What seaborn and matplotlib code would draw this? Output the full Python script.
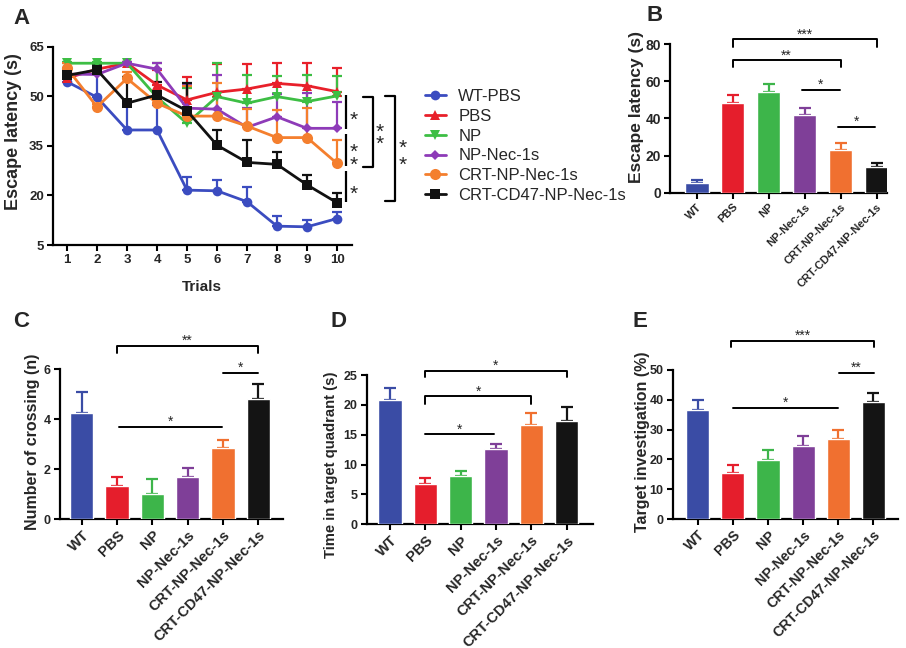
import numpy as np
import pandas as pd
import matplotlib
matplotlib.use('Agg')
import matplotlib.pyplot as plt
import seaborn as sns
from matplotlib.lines import Line2D

sns.set_theme(style='ticks')
plt.rcParams['font.family'] = ['Liberation Sans', 'DejaVu Sans']
plt.rcParams['font.weight'] = 'bold'
plt.rcParams['axes.labelweight'] = 'bold'

# ---------------- data ----------------
trials = [1, 2, 3, 4, 5, 6, 7, 8, 9, 10]
series_names = ['WT-PBS', 'PBS', 'NP', 'NP-Nec-1s', 'CRT-NP-Nec-1s', 'CRT-CD47-NP-Nec-1s']

wt_pbs_mean = [54.4, 49.7, 39.8, 39.8, 21.6, 21.4, 18.1, 10.7, 10.5, 13.0]
wt_pbs_err = [3.0, 7.0, 7.6, 7.6, 3.9, 3.3, 4.4, 3.2, 2.1, 2.0]
pbs_mean = [55.5, 58.2, 60.0, 53.4, 48.9, 51.2, 52.2, 53.9, 53.2, 51.4]
pbs_err = [2.0, 2.0, 0.5, 4.5, 7.0, 8.6, 7.6, 6.3, 7.0, 7.1]
np_mean = [60.0, 60.0, 60.0, 49.7, 41.8, 49.9, 47.9, 49.9, 48.4, 50.1]
np_err = [0.5, 0.5, 0.5, 10.3, 10.6, 10.3, 8.5, 6.2, 8.0, 6.0]
np_nec_mean = [56.7, 56.6, 60.0, 58.2, 46.4, 46.1, 40.6, 43.8, 40.3, 40.3]
np_nec_err = [2.0, 2.0, 0.5, 2.0, 7.0, 10.3, 6.0, 7.0, 10.6, 8.1]
crt_np_mean = [58.5, 46.8, 55.4, 47.9, 44.0, 44.0, 41.0, 37.5, 37.5, 29.7]
crt_np_err = [1.5, 1.0, 2.0, 2.0, 9.0, 9.9, 5.0, 8.3, 8.9, 7.1]
crt_cd47_mean = [56.3, 58.0, 47.9, 50.4, 45.6, 35.2, 30.0, 29.4, 23.2, 17.8]
crt_cd47_err = [1.5, 1.5, 8.0, 4.0, 8.3, 4.6, 6.8, 3.8, 3.0, 3.0]

bar_groups = ['WT', 'PBS', 'NP', 'NP-Nec-1s', 'CRT-NP-Nec-1s', 'CRT-CD47-NP-Nec-1s']
b_mean = [5.4, 48.5, 54.5, 41.9, 23.0, 14.0]
b_err = [1.4, 4.2, 4.1, 3.9, 3.6, 2.2]
c_mean = [4.25, 1.33, 1.0, 1.67, 2.83, 4.8]
c_err = [0.84, 0.36, 0.6, 0.36, 0.33, 0.6]
d_mean = [20.8, 6.75, 8.15, 12.6, 16.6, 17.35]
d_err = [2.0, 1.05, 0.75, 0.85, 2.0, 2.35]
e_mean = [36.6, 15.3, 19.8, 24.6, 26.7, 39.4]
e_err = [3.3, 2.8, 3.4, 3.4, 3.2, 2.8]

# ---------------- style ----------------
line_colors = ['#3B4CC0', '#E8202A', '#3DBE44', '#8E3BB8', '#F47F2E', '#111111']
line_markers = ['o', '^', 'v', 'D', 'o', 's']
marker_sizes = [7, 7, 7, 5, 8, 7.5]
bar_colors = ['#3A4CA5', '#E51E2C', '#3DB54A', '#7F3F98', '#F07030', '#141414']

W, H = 906, 648
fig = plt.figure(figsize=(W / 100, H / 100), dpi=100)


def rect(left, right, top, bottom):
    return [left / W, 1 - bottom / H, (right - left) / W, (bottom - top) / H]


def style_axes(ax):
    sns.despine(ax=ax)
    for s in ['left', 'bottom']:
        ax.spines[s].set_linewidth(1.6)
        ax.spines[s].set_color('black')
    ax.tick_params(direction='out', length=4.5, width=1.5, color='black', pad=2)
    ax.set_facecolor('none')


# ---------------- Panel A ----------------
axA = fig.add_axes(rect(53, 352, 46.7, 245))
means = [wt_pbs_mean, pbs_mean, np_mean, np_nec_mean, crt_np_mean, crt_cd47_mean]
errs = [wt_pbs_err, pbs_err, np_err, np_nec_err, crt_np_err, crt_cd47_err]
order = [0, 3, 4, 5, 2, 1]
for i in order:
    m = np.array(means[i]); e = np.array(errs[i])
    axA.errorbar(trials, m, yerr=[np.zeros_like(e), e], fmt='none', ecolor=line_colors[i],
                 elinewidth=1.6, capsize=3.5, capthick=1.6, zorder=2 + i * 0.1)
    sns.lineplot(x=trials, y=means[i], color=line_colors[i], marker=line_markers[i],
                 markersize=marker_sizes[i], markeredgewidth=0, lw=2, ax=axA,
                 zorder=3 + i * 0.1)
axA.set_xlim(0.533, 10.5)
axA.set_ylim(5, 65)
axA.set_xticks(trials)
axA.set_yticks([5, 20, 35, 50, 65])
style_axes(axA)
axA.tick_params(labelsize=9.5)
axA.set_xlabel('Trials', fontsize=11)
axA.set_ylabel('Escape latency (s)', fontsize=13)
axA.yaxis.set_label_coords(-0.104, 0.572)
axA.xaxis.set_label_coords(0.498, -0.175)


def vbar(ax, x, y1, y2, tick=None, lw=1.6):
    if tick is None:
        ax.plot([x, x], [y1, y2], color='black', lw=lw, clip_on=False, solid_capstyle='butt')
    else:
        ax.plot([tick, x, x, tick], [y1, y1, y2, y2], color='black', lw=lw, clip_on=False)


def star(ax, x, yc, s='*', fs=15, ls=1.0):
    # asterisk glyph sits high in the em box; shift baseline down to center it
    ax.annotate(s, (x, yc), xytext=(0, -fs * 0.62), textcoords='offset points',
                ha='center', va='baseline', fontsize=fs, fontweight='normal',
                linespacing=ls, multialignment='center', annotation_clip=False)


vbar(axA, 10.3, 50.4, 40.0)
vbar(axA, 10.3, 38.6, 28.9)
vbar(axA, 10.3, 27.5, 17.9)
star(axA, 10.55, 45.0)
star(axA, 10.55, 31.5, s='*\n*', ls=0.6)
star(axA, 10.55, 22.6)
vbar(axA, 11.19, 49.9, 28.7, tick=10.87)
star(axA, 11.43, 37.6, s='*\n*', ls=0.55)
vbar(axA, 11.93, 50.1, 18.4, tick=11.6)
star(axA, 12.19, 31.3, s='*\n*', ls=0.85)

handles = [Line2D([0], [0], color=line_colors[i], marker=line_markers[i],
                  markersize=marker_sizes[i], markeredgewidth=0, lw=2)
           for i in range(6)]
axA.legend(handles, series_names, loc='upper left', bbox_to_anchor=(425 / W, 1 - 89 / H),
           bbox_transform=fig.transFigure, frameon=False, borderpad=0, borderaxespad=0,
           handlelength=1.25, handletextpad=0.75, labelspacing=0.29,
           prop={'weight': 'normal', 'size': 12})


# ---------------- bar panels ----------------
def bar_panel(r, vals, errv, ylim, yticks, xlim, ylabel, ylab_fs, ylab_xy, ytick_fs, xtick_fs):
    ax = fig.add_axes(r)
    df = pd.DataFrame({'group': bar_groups, 'value': vals})
    sns.barplot(data=df, x='group', y='value', hue='group', palette=bar_colors,
                order=bar_groups, hue_order=bar_groups, width=0.66, saturation=1,
                legend=False, ax=ax, zorder=3)
    for i, (v, e) in enumerate(zip(vals, errv)):
        ax.errorbar(i, v, yerr=[[0], [e]], fmt='none', ecolor=bar_colors[i],
                    elinewidth=1.6, capsize=4, capthick=1.6, zorder=2)
    ax.set_xlim(*xlim)
    ax.set_ylim(*ylim)
    ax.set_yticks(yticks)
    style_axes(ax)
    ax.tick_params(axis='y', labelsize=ytick_fs)
    ax.tick_params(axis='x', labelsize=xtick_fs)
    plt.setp(ax.get_xticklabels(), rotation=45, ha='right', rotation_mode='anchor')
    ax.set_xlabel('')
    ax.set_ylabel(ylabel, fontsize=ylab_fs)
    ax.yaxis.set_label_coords(*ylab_xy)
    return ax


def sig(ax, x1, x2, y, text, tick=None, fs=10, lw=1.4):
    if tick is None:
        ax.plot([x1, x2], [y, y], color='black', lw=lw, clip_on=False)
    else:
        ax.plot([x1, x1, x2, x2], [y - tick, y, y, y - tick], color='black', lw=lw, clip_on=False)
    ax.annotate(text, ((x1 + x2) / 2, y), xytext=(0, 0.5), textcoords='offset points',
                ha='center', va='baseline', fontsize=fs, fontweight='normal',
                annotation_clip=False)


axB = bar_panel(rect(670, 887, 44.3, 192.7), b_mean, b_err, (0, 80), [0, 20, 40, 60, 80],
                (-0.74, 5.29), 'Escape latency (s)', 12.5, (-0.118, 0.58), 10, 8)
sig(axB, 1, 5, 82.7, '***', tick=4.0)
sig(axB, 1, 4, 71.5, '**', tick=3.5)
sig(axB, 2.92, 3.98, 55.4, '*')
sig(axB, 3.93, 4.95, 35.6, '*')

axC = bar_panel(rect(60, 283, 369, 519), c_mean, c_err, (0, 6), [0, 2, 4, 6],
                (-0.615, 5.70), 'Number of crossing (n)', 11.5, (-0.09, 0.515), 9, 10.5)
sig(axC, 1, 5, 6.93, '**', tick=0.3)
sig(axC, 4.01, 5.0, 5.85, '*')
sig(axC, 1.05, 3.97, 3.69, '*')

axD = bar_panel(rect(366.7, 593, 375, 524.3), d_mean, d_err, (0, 25), [0, 5, 10, 15, 20, 25],
                (-0.66, 5.745), 'Time in target quadrant (s)', 10.7, (-0.127, 0.40), 9, 10.5)
sig(axD, 1, 5, 25.7, '*', tick=1.1)
sig(axD, 1, 4, 21.4, '*', tick=1.3)
sig(axD, 1, 2.95, 15.07, '*')

axE = bar_panel(rect(672.7, 898, 370, 519), e_mean, e_err, (0, 50), [0, 10, 20, 30, 40, 50],
                (-0.71, 5.70), 'Target investigation (%)', 11.5, (-0.10, 0.52), 9, 10.2)
sig(axE, 0.94, 5.02, 59.8, '***', tick=2.2)
sig(axE, 4.03, 5.02, 49.1, '**')
sig(axE, 1.0, 4.0, 37.4, '*')

# panel letters
for letter, (px, py) in zip('ABCDE', [(13, 8), (647, 5), (13, 311), (330, 311), (632, 311)]):
    fig.text(px / W, 1 - py / H, letter, fontsize=16, fontweight='bold', ha='left', va='top')

fig.savefig('out.png', dpi=100, facecolor='white')
